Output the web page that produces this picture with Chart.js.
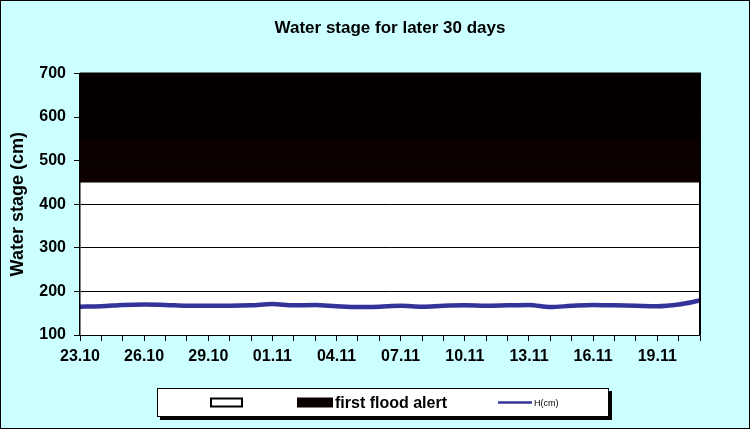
<!DOCTYPE html>
<html><head><meta charset="utf-8">
<script src="https://cdn.jsdelivr.net/npm/chart.js@4/dist/chart.umd.min.js"></script>
<style>html,body{margin:0;padding:0;background:#ccffff;}canvas{display:block;}</style>
</head><body>
<canvas id="c" width="750" height="429"></canvas>
<script>
const dates = ['23.10','24.10','25.10','26.10','27.10','28.10','29.10','30.10','31.10',
  '01.11','02.11','03.11','04.11','05.11','06.11','07.11','08.11','09.11','10.11','11.11',
  '12.11','13.11','14.11','15.11','16.11','17.11','18.11','19.11','20.11','21.11'];
const stage = [165,166,169,170,169,167,167,167,168,171,168,169,166,164,165,167,165,167,168,167,
  168,169,164,167,169,168,167,166,170,179];
const alertLevel = 450;
const bandSplit = 545;
const yMin = 100, yMax = 700, yStep = 100;
const alertBand = dates.map(() => alertLevel);
const topBand = dates.map(() => yMax);
const labelEvery = 3;

const FONT = "'Liberation Sans', Arial, sans-serif";
const floodLow = '#0d0000', floodHigh = '#050000', lineColor = '#333399';

function floodFill(ctx) {
  const chart = ctx.chart;
  const y = chart.scales.y;
  if (!chart.chartArea || !y) return floodHigh;
  const p0 = y.getPixelForValue(alertLevel), p1 = y.getPixelForValue(yMax);
  const s = (bandSplit - alertLevel) / (yMax - alertLevel);
  const g = chart.ctx.createLinearGradient(0, p0, 0, p1);
  g.addColorStop(0, floodLow); g.addColorStop(s, floodLow);
  g.addColorStop(s, floodHigh); g.addColorStop(1, floodHigh);
  return g;
}

const bgPlugin = {
  id: 'bg',
  beforeDraw(chart) {
    const c = chart.ctx;
    c.save();
    c.fillStyle = '#ccffff';
    c.fillRect(0, 0, chart.width, chart.height);
    c.restore();
  },
  afterDraw(chart) {
    const c = chart.ctx, a = chart.chartArea;
    c.save();
    c.strokeStyle = '#000';
    c.lineWidth = 2;
    c.beginPath();
    c.moveTo(a.left, a.top); c.lineTo(a.right, a.top); c.lineTo(a.right, a.bottom);
    c.stroke();
    c.lineWidth = 1;
    c.strokeRect(0.5, 0.5, chart.width - 1, chart.height - 1);
    // legend
    const L = {x: 157, y: 388, w: 452, h: 29};
    c.fillStyle = '#000';
    c.fillRect(L.x + 3, L.y + 3, L.w, L.h);
    c.fillStyle = '#fff';
    c.fillRect(L.x, L.y, L.w, L.h);
    c.strokeStyle = '#000'; c.lineWidth = 1;
    c.strokeRect(L.x + 0.5, L.y + 0.5, L.w - 1, L.h - 1);
    const cy = L.y + L.h / 2;
    const ds = chart.data.datasets;
    c.fillStyle = '#fff'; c.fillRect(210, cy - 5, 33, 10);
    c.lineWidth = 2; c.strokeRect(211, cy - 4, 31, 8);
    c.fillStyle = '#000'; c.textBaseline = 'middle'; c.textAlign = 'left';
    c.font = 'bold 16px ' + FONT;
    c.fillText(ds[0].label, 246, cy + 1);
    c.fillStyle = '#0a0000'; c.fillRect(297, cy - 5, 36, 10);
    c.fillStyle = '#000';
    c.fillText(ds[1].label, 335, cy + 1);
    c.strokeStyle = lineColor; c.lineWidth = 2.5;
    c.beginPath(); c.moveTo(498, cy); c.lineTo(532, cy); c.stroke();
    c.font = '9px ' + FONT;
    c.fillText(ds[2].label, 534, cy + 1);
    c.restore();
  }
};

new Chart(document.getElementById('c'), {
  type: 'line',
  data: {
    labels: dates,
    datasets: [
      {label: '', data: alertBand, fill: 'start', backgroundColor: '#fff', borderWidth: 0, pointRadius: 0, order: 3},
      {label: 'first flood alert', data: topBand, fill: '-1', backgroundColor: floodFill, borderWidth: 0, pointRadius: 0, order: 2},
      {label: 'H(cm)', data: stage, fill: false, borderColor: lineColor, borderWidth: 4.5, pointRadius: 0, tension: 0.4, cubicInterpolationMode: 'monotone', order: 1}
    ]
  },
  options: {
    responsive: false,
    animation: false,
    devicePixelRatio: 1,
    layout: {padding: {left: 2, right: 50, top: 0, bottom: 54}},
    plugins: {
      legend: {display: false},
      tooltip: {enabled: false},
      title: {
        display: true, text: 'Water stage for later 30 days', color: '#000', fullSize: false,
        font: {family: FONT, size: 17, weight: 'bold'}, padding: {top: 18, bottom: 35}
      }
    },
    scales: {
      x: {
        offset: false,
        grid: {display: true, drawOnChartArea: false, drawTicks: true, tickLength: 6, color: '#000'},
        border: {display: true, color: '#000', width: 1.5},
        ticks: {
          autoSkip: false, maxRotation: 0, color: '#000', padding: 6,
          font: {family: FONT, size: 16, weight: 'bold'},
          callback: (v, i) => (i % labelEvery === 0 ? dates[i] : '')
        },
        afterFit: s => { s.height = 40; }
      },
      y: {
        min: yMin, max: yMax,
        grid: {color: '#000', lineWidth: 1, tickLength: 6, z: 1},
        border: {display: true, color: '#000', width: 1.5, z: 1},
        ticks: {stepSize: yStep, color: '#000', padding: 8, font: {family: FONT, size: 16, weight: 'bold'}},
        title: {display: true, text: 'Water stage (cm)', color: '#000', padding: {top: 5, bottom: 0},
          font: {family: FONT, size: 18, weight: 'bold'}},
        afterFit: s => { s.width = 78; }
      }
    }
  },
  plugins: [bgPlugin]
});
</script>
</body></html>
